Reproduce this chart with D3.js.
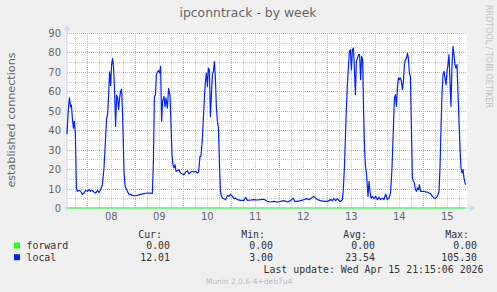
<!DOCTYPE html>
<html>
<head>
<meta charset="utf-8">
<script src="https://cdn.jsdelivr.net/npm/d3@7"></script>
<style>
  body { margin: 0; background: #f0f0f0; }
  svg { display: block; }
  text { font-family: "DejaVu Sans", sans-serif; }
  .mono { font-family: "DejaVu Sans Mono", monospace; }
</style>
</head>
<body>
<svg id="chart" width="497" height="292"></svg>
<script>
// graph window: 200 hours ending Apr 15 2026
var startTime = new Date(2026, 3, 7, 13, 50);
var spanHours = 200;

var yTicks = [0, 10, 20, 30, 40, 50, 60, 70, 80, 90];
var dayLabels = ["08", "09", "10", "11", "12", "13", "14", "15"];

// hours after startTime
var localHours = [
  0, 0.5, 1.2, 1.8, 2.2, 2.7, 3.2, 3.7, 4.2, 4.7, 5.2, 6, 6.8, 7.7, 8.5, 9.3, 10.2, 11, 11.8, 12.7,
  13.5, 14.3, 15.2, 16, 16.8, 17.7, 18.5, 19.3, 19.8, 20.3, 20.8, 21.3, 21.8, 22.3, 22.8, 23.3, 23.8, 24.3, 24.8, 25.3,
  25.8, 26.3, 26.8, 27.3, 27.8, 28.5, 29, 29.5, 30.2, 31, 31.8, 32.7, 33.5, 35.2, 36.8, 38.5, 40.2, 41.8, 42.7, 43.2,
  43.7, 44.2, 44.7, 45.2, 45.8, 46.3, 46.8, 47.3, 47.8, 48.5, 49, 49.5, 50.2, 50.8, 51.5, 52, 52.5, 53, 53.5, 54,
  54.5, 55.2, 56, 56.8, 57.7, 58.5, 59.3, 60.2, 61, 61.8, 62.7, 63.5, 64.3, 65.2, 65.8, 66.5, 67, 67.7, 68.2, 68.7,
  69.2, 69.7, 70.2, 70.7, 71.2, 71.7, 72.2, 72.7, 73.2, 73.7, 74.2, 74.7, 75.2, 75.7, 76.2, 76.7, 77.2, 77.8, 78.5, 79.3,
  80.2, 81, 81.8, 82.7, 83.5, 84.3, 85.2, 86.8, 88.5, 89.3, 90.2, 91.8, 93.5, 95.2, 96.8, 98.5, 100.2, 101.8, 103.5, 105.2,
  106.8, 108.5, 110.2, 111.8, 113.2, 113.8, 115.2, 116.8, 118.5, 119.8, 121, 121.8, 122.7, 123.5, 124.3, 125.2, 126.8, 128.5, 130.2, 131.8,
  132.7, 133.5, 134.3, 135.2, 136, 136.8, 137.7, 138.2, 138.7, 139.2, 139.7, 140.2, 140.7, 141.2, 141.7, 142.2, 142.7, 143.2, 143.7, 144.2,
  144.7, 145.2, 145.8, 146.3, 146.8, 147.3, 147.8, 148.3, 148.8, 149.2, 149.8, 150.5, 151, 151.5, 152, 152.7, 153.5, 154.3, 155.2, 156,
  156.8, 157.7, 158.5, 159.3, 160.2, 161, 161.8, 162.5, 163.2, 163.7, 164.2, 164.7, 165.2, 165.7, 166.2, 166.7, 167.2, 167.7, 168.2, 168.7,
  169.2, 169.7, 170.2, 170.7, 171.2, 171.7, 172.2, 172.7, 173.2, 173.7, 174.2, 174.7, 175.2, 175.7, 176.2, 176.8, 177.7, 178.5, 179.3, 180.2,
  181, 181.8, 182.7, 183.5, 184.3, 185.2, 186, 186.5, 187, 187.5, 188, 188.5, 189, 189.5, 190, 190.5, 191, 191.5, 192, 192.5,
  193, 193.5, 194, 194.5, 195, 195.5, 196, 196.5, 197, 197.5, 198, 198.5, 199, 199.3
];
var localValues = [
  38, 48, 56.6, 52, 53, 46, 41, 44.6, 37.7, 10, 8.6, 9, 8.6, 7, 7.7, 9, 8.6, 9.4, 8.6, 9,
  8.2, 7.7, 9, 8, 9.4, 12, 20.6, 36, 46, 48, 58, 70, 63, 73.7, 76.8, 72, 60, 42, 58, 56.6,
  50.6, 56.6, 60, 61, 48, 18.9, 12, 10, 8.6, 7, 7, 6.5, 6.3, 6.5, 7, 7.4, 7.7, 7.7, 7.5, 24,
  57.4, 58, 68.6, 70, 70.6, 69.4, 72.9, 44.6, 55, 57.4, 52, 56.6, 51.4, 61.5, 58, 42.9, 27.4, 22.3, 20.6, 22.3,
  18.9, 19.2, 19.7, 18, 17.5, 17.1, 18.5, 19.2, 17.5, 18.5, 18.9, 18.5, 18.9, 18, 18.5, 26.6, 26.6, 36, 46.3, 56.6,
  65, 69.4, 62.6, 72, 71, 47, 58, 68.6, 70.3, 75.4, 66.9, 51.4, 44.6, 41, 24, 8.6, 6, 5.1, 4.8, 4.3,
  6.5, 6, 7, 6, 4.8, 5.1, 4.3, 3.9, 3.9, 5.5, 3.9, 4.1, 4.3, 4.1, 4.3, 4.5, 3.4, 3.1, 3.4, 3.1,
  3.4, 3.8, 3.1, 3.8, 5.1, 3.4, 3.4, 3.8, 4.3, 4.8, 4.3, 4.8, 5.5, 6, 5.1, 4.3, 3.8, 3.4, 3.4, 4.3,
  3.8, 4.8, 3.8, 4.8, 3.8, 3.4, 4.3, 10.3, 20.6, 36, 51.4, 63.4, 72, 80.6, 81.4, 71, 81.4, 82.3, 72, 58.3,
  75.4, 77, 78.9, 78.9, 66, 78, 76.3, 49.7, 30, 22, 17, 6, 13.7, 8.6, 5.1, 6, 4.8, 6, 4.3, 5.5,
  4.3, 5.1, 4.3, 7.2, 4.3, 5.1, 7.7, 20.6, 41, 56.6, 58.3, 52.3, 61.7, 66.9, 66, 66.9, 65, 60.9, 65, 73.7,
  76.3, 77, 79.7, 77, 69.4, 67.7, 41, 15.4, 13.7, 12.9, 9.4, 8.6, 10.3, 9.4, 12, 8.6, 8.6, 8.6, 8.2, 8.2,
  7.7, 7.4, 6, 5.1, 5.1, 6, 8.6, 20.6, 41, 58.3, 68.6, 70.3, 66.9, 63.4, 70.3, 73.7, 78.9, 65, 52.3, 73.7,
  83.1, 78.9, 73.7, 72, 73.7, 58.3, 44.6, 30.9, 20.6, 18, 19.7, 15.4, 12.9, 12
];
var forwardHours = [0, 199.3];
var forwardValues = [0, 0];

var legendNames = ["forward", "local"];
var legendColors = ["#22ff22", "#0022ff"];
var curValues = ["0.00", "12.01"];
var minValues = ["0.00", "3.00"];
var avgValues = ["0.00", "23.54"];
var maxValues = ["0.00", "105.30"];

var svg = d3.select("#chart");
var plotLeft = 67, plotRight = 467, plotTop = 33, plotBottom = 208;

var endTime = d3.timeHour.offset(startTime, spanHours);
var x = d3.scaleTime().domain([startTime, endTime]).range([plotLeft, plotRight]);
var y = d3.scaleLinear().domain([0, 90]).range([plotBottom, plotTop]);

function hoursToTime(h) { return new Date(startTime.getTime() + h * 3600000); }

svg.append("rect")
    .attr("x", plotLeft).attr("y", plotTop)
    .attr("width", plotRight - plotLeft).attr("height", plotBottom - plotTop)
    .attr("fill", "#ffffff");

// minor grid
var grid = svg.append("g").attr("stroke-dasharray", "1,1").attr("stroke-width", 1);
d3.range(5, 90, 10).forEach(function(v) {
  grid.append("line")
      .attr("x1", plotLeft).attr("x2", plotRight)
      .attr("y1", Math.round(y(v)) + 0.5).attr("y2", Math.round(y(v)) + 0.5)
      .attr("stroke", "#c8c8c8");
});
d3.timeHour.every(6).range(startTime, endTime).forEach(function(t) {
  if (t.getHours() === 0) return;
  grid.append("line")
      .attr("x1", Math.round(x(t)) + 0.5).attr("x2", Math.round(x(t)) + 0.5)
      .attr("y1", plotTop).attr("y2", plotBottom)
      .attr("stroke", "#c8c8c8");
});
// major grid
yTicks.forEach(function(v) {
  if (v === 0) return;
  grid.append("line")
      .attr("x1", plotLeft).attr("x2", plotRight)
      .attr("y1", Math.round(y(v)) + 0.5).attr("y2", Math.round(y(v)) + 0.5)
      .attr("stroke", "#f0a0a0");
});
d3.timeDay.range(startTime, endTime).forEach(function(t) {
  grid.append("line")
      .attr("x1", Math.round(x(t)) + 0.5).attr("x2", Math.round(x(t)) + 0.5)
      .attr("y1", plotTop).attr("y2", plotBottom)
      .attr("stroke", "#f0a0a0");
});

// axes
svg.append("line")
    .attr("x1", plotLeft).attr("x2", plotLeft).attr("y1", plotBottom + 3).attr("y2", plotTop - 3)
    .attr("stroke", "#cfd6f8");
svg.append("path")
    .attr("d", "M" + (plotLeft - 3) + "," + (plotTop - 3) + "L" + plotLeft + "," + (plotTop - 8) + "L" + (plotLeft + 3) + "," + (plotTop - 3) + "Z")
    .attr("fill", "#cfd6f8");
svg.append("line")
    .attr("x1", plotLeft - 3).attr("x2", plotRight + 3).attr("y1", plotBottom).attr("y2", plotBottom)
    .attr("stroke", "#cfd6f8");
svg.append("path")
    .attr("d", "M" + (plotRight + 3) + "," + (plotBottom - 3) + "L" + (plotRight + 8) + "," + plotBottom + "L" + (plotRight + 3) + "," + (plotBottom + 3) + "Z")
    .attr("fill", "#cfd6f8");

svg.append("g").selectAll("text")
  .data(yTicks)
  .enter().append("text")
    .attr("x", 61)
    .attr("y", function(d) { return y(d) + 4; })
    .attr("text-anchor", "end")
    .attr("font-size", "10px")
    .attr("fill", "#666666")
    .text(function(d) { return d; });

svg.append("g").selectAll("text")
  .data(dayLabels)
  .enter().append("text")
    .attr("x", function(d) { return x(new Date(2026, 3, +d, 12)); })
    .attr("y", 220)
    .attr("text-anchor", "middle")
    .attr("font-size", "10px")
    .attr("fill", "#666666")
    .text(function(d) { return d; });

// series
var line = d3.line()
    .x(function(d) { return x(hoursToTime(d[0])); })
    .y(function(d) { return y(d[1]); });

svg.append("path")
    .datum(d3.zip(forwardHours, forwardValues))
    .attr("d", line)
    .attr("fill", "none")
    .attr("stroke", legendColors[0])
    .attr("stroke-width", 1);

svg.append("path")
    .datum(d3.zip(localHours, localValues))
    .attr("d", line)
    .attr("fill", "none")
    .attr("stroke", legendColors[1])
    .attr("stroke-width", 1.2)
    .attr("stroke-linejoin", "round");

// titles
svg.append("text")
    .attr("x", 248).attr("y", 17)
    .attr("text-anchor", "middle")
    .attr("font-size", "12.4px")
    .attr("fill", "#666666")
    .text("ipconntrack - by week");

svg.append("text")
    .attr("transform", "translate(15,120) rotate(-90)")
    .attr("text-anchor", "middle")
    .attr("font-size", "11.2px")
    .attr("fill", "#666666")
    .text("established connections");

svg.append("text")
    .attr("transform", "translate(486,56.5) rotate(90)")
    .attr("text-anchor", "middle")
    .attr("font-size", "8px")
    .attr("fill", "#c0c0c0")
    .text("RRDTOOL / TOBI OETIKER");

// legend
var cols = [
  {head: "Cur:", hx: 162, vx: 170, vals: curValues},
  {head: "Min:", hx: 265, vx: 273, vals: minValues},
  {head: "Avg:", hx: 367, vx: 375, vals: avgValues},
  {head: "Max:", hx: 469, vx: 477, vals: maxValues}
];
var legend = svg.append("g").attr("class", "mono").attr("font-size", "9.9px").attr("fill", "#333333");
cols.forEach(function(c) {
  legend.append("text").attr("class", "mono")
      .attr("x", c.hx).attr("y", 238).attr("text-anchor", "end").text(c.head);
});
legendNames.forEach(function(name, i) {
  var by = 249 + i * 11.7;
  legend.append("rect")
      .attr("x", 14).attr("y", by - 6.5).attr("width", 6).attr("height", 6)
      .attr("fill", legendColors[i]);
  legend.append("text").attr("class", "mono")
      .attr("x", 26.5).attr("y", by).text(name);
  cols.forEach(function(c) {
    legend.append("text").attr("class", "mono")
        .attr("x", c.vx).attr("y", by).attr("text-anchor", "end").text(c.vals[i]);
  });
});
legend.append("text").attr("class", "mono")
    .attr("x", 483.5).attr("y", 273).attr("text-anchor", "end")
    .text("Last update: Wed Apr 15 21:15:06 2026");

svg.append("text")
    .attr("x", 249).attr("y", 284)
    .attr("text-anchor", "middle")
    .attr("font-size", "7.5px")
    .attr("fill", "#bbbbbb")
    .text("Munin 2.0.6-4+deb7u4");
</script>
</body>
</html>
